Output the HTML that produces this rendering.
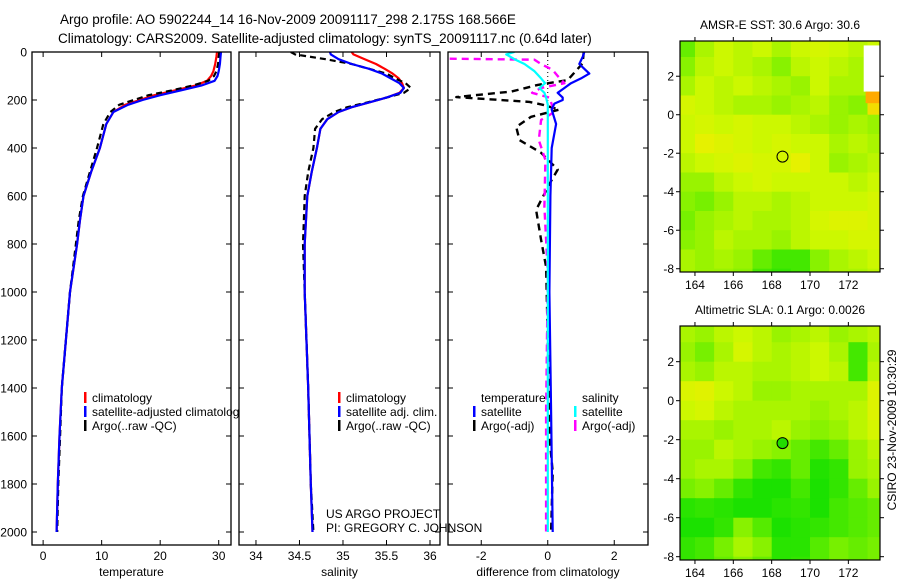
<!DOCTYPE html>
<html><head><meta charset="utf-8"><style>
html,body{margin:0;padding:0;background:#fff;}
svg{display:block;font-family:"Liberation Sans",sans-serif;}
</style></head><body>
<svg id="fig" width="900" height="580" viewBox="0 0 900 580">
<g font-size="13.5">
<text x="60" y="24">Argo profile: AO 5902244_14 16-Nov-2009 20091117_298 2.175S 168.566E</text>
<text x="58" y="43">Climatology: CARS2009. Satellite-adjusted climatology: synTS_20091117.nc (0.64d later)</text>
</g>
<g id="plots"></g>
</svg>
<script>
// ---------- DATA ----------
const tDepth = [0,20,50,80,100,120,140,160,180,200,220,250,300,400,500,600,700,800,1000,1200,1400,1600,1800,2000];
const tClim  = [29.7,29.6,29.4,29.1,28.7,28.0,26,22.5,19,16.5,14,12,10.8,9.7,8.2,6.9,6.3,5.8,4.6,3.9,3.2,2.8,2.5,2.3];
const tSat   = [30.4,30.3,30.2,30.0,29.8,29.3,27,23.5,20,17,14.5,12,10.8,9.7,8.2,6.9,6.3,5.8,4.6,3.9,3.2,2.8,2.5,2.3];
const tArgo  = [30.1,30.0,29.9,29.6,29.2,28.2,25.5,22,18,15.5,13,11.5,10.3,9.2,8.0,6.8,6.1,5.6,4.6,3.9,3.2,2.9,2.6,2.4];

const sDepth = [0,10,30,50,70,90,110,130,150,170,190,210,230,250,280,320,400,500,600,800,1000,1400,1800,2000];
const sClim  = [35.1,35.12,35.25,35.38,35.48,35.57,35.64,35.68,35.7,35.65,35.5,35.3,35.1,34.95,34.82,34.74,34.7,34.64,34.59,34.56,34.56,34.6,34.63,34.65];
const sSat   = [34.85,34.86,34.95,35.1,35.3,35.45,35.55,35.65,35.7,35.66,35.5,35.3,35.1,34.95,34.82,34.74,34.7,34.64,34.59,34.56,34.56,34.6,34.63,34.65];
const sArgo  = [34.4,34.45,34.8,35.1,35.3,35.5,35.6,35.72,35.78,35.7,35.5,35.28,35.05,34.9,34.76,34.68,34.66,34.6,34.56,34.54,34.56,34.6,34.63,34.66];

const dTSatDepth = [0,20,50,70,90,110,130,150,170,190,200,215,240,300,400,600,1000,1500,2000];
const dTSat      = [1.1,1.05,0.95,1.1,1.25,1.0,0.7,0.5,0.3,0.45,0.45,0.2,0.12,0.25,0.12,0.08,0.05,0.1,0.15];
const dTArgoDepth = [0,47,117,137,165,188,208,220,240,270,312,367,420,490,545,658,783,896,1200,1600,1750,2000];
const dTArgo      = [1.08,1.05,0.6,-0.3,-1.1,-2.75,-0.55,-0.15,0.35,-0.5,-0.95,-0.85,-0.2,0.3,0.07,-0.35,-0.2,-0.05,0,0.05,0.15,0.1];
const dSSatDepth = [0,10,30,50,80,110,130,150,170,190,220,300,2000];
const dSSat      = [-1.0,-1.25,-1.0,-0.7,-0.4,-0.2,-0.08,-0.25,-0.1,-0.05,0,0,0];
const dSArgoDepth = [28,32,50,75,100,130,150,170,190,250,283,367,450,645,920,1500,2000];
const dSArgo      = [-2.95,-0.4,-0.2,0.15,0.3,0.5,-0.2,-0.47,0.05,0.2,-0.2,-0.27,-0.07,-0.1,0,-0.05,-0.05];

const depthTicks = [0,200,400,600,800,1000,1200,1400,1600,1800,2000];
const tTicks = [0,10,20,30];
const sTicks = [34,34.5,35,35.5,36];
const dTicks = [-2,0,2];
const lonTicks = [164,166,168,170,172];
const latTicks = [2,0,-2,-4,-6,-8];
const floatLon = 168.566, floatLat = -2.175;

// map grids: rows lat 4..-9 (1 deg), cols lon 163..174
const sstGrid = [
[.3,.5,.6,.55,.6,.5,.6,.65,.6,.55,.6],
[.4,.55,.6,.55,.5,.4,.55,.6,.55,.5,.55],
[.5,.6,.55,.6,.55,.5,.45,.6,.5,.5,.6],
[.65,.6,.55,.5,.5,.45,.5,.55,.45,.4,.85],
[.6,.65,.6,.65,.6,.6,.55,.5,.45,.5,.45],
[.6,.75,.7,.65,.6,.65,.6,.6,.5,.55,.5],
[.55,.6,.65,.7,.65,.65,.75,.6,.45,.5,.55],
[.45,.45,.55,.6,.65,.6,.6,.6,.6,.55,.6],
[.4,.35,.45,.55,.55,.5,.55,.6,.6,.6,.65],
[.35,.45,.5,.55,.5,.5,.55,.65,.7,.7,.65],
[.4,.45,.55,.5,.5,.45,.55,.6,.6,.65,.65],
[.5,.45,.5,.45,.3,.2,.2,.4,.5,.55,.6],
[.5,.45,.45,.4,.2,.15,.2,.4,.5,.5,.55]];
const slaGrid = [
[.5,.45,.55,.6,.55,.45,.5,.55,.45,.5,.55],
[.45,.35,.5,.65,.55,.5,.55,.6,.5,.2,.5],
[.5,.45,.55,.55,.5,.5,.55,.6,.55,.2,.55],
[.68,.72,.6,.55,.45,.45,.5,.5,.5,.5,.7],
[.6,.65,.55,.5,.5,.5,.5,.45,.5,.55,.7],
[.5,.5,.45,.5,.5,.55,.45,.4,.45,.55,.65],
[.45,.45,.55,.5,.45,.4,.3,.2,.3,.45,.55],
[.45,.5,.5,.4,.2,.15,.3,.1,.15,.45,.5],
[.35,.4,.3,.15,.08,.08,.2,.08,.15,.3,.45],
[.12,.15,.12,.08,.08,.12,.15,.08,.2,.25,.3],
[.08,.08,.15,.4,.25,.08,.12,.15,.2,.25,.3],
[.15,.2,.35,.5,.4,.12,.12,.25,.35,.3,.35],
[.15,.2,.3,.4,.3,.12,.15,.25,.35,.3,.35]];

// ---------- DRAW ----------
const NS='http://www.w3.org/2000/svg';
const root=document.getElementById('plots');
function mk(tag,attrs,parent){const e=document.createElementNS(NS,tag);for(const k in attrs)e.setAttribute(k,attrs[k]);(parent||root).appendChild(e);return e;}
const Y0=52, Y1=545;
const yD=d=>52+d*0.24;

const panels=[
 {name:'temperature-panel',x0:32,x1:231,v0:-1.9,v1:32.1,ticks:tTicks,label:'temperature',ylabels:true},
 {name:'salinity-panel',x0:239,x1:440,v0:33.805,v1:36.115,ticks:sTicks,label:'salinity',ylabels:false},
 {name:'difference-panel',x0:448,x1:648,v0:-3.0,v1:3.015,ticks:dTicks,label:'difference from climatology',ylabels:false}
];
panels.forEach(p=>{p.sx=v=>p.x0+(v-p.v0)/(p.v1-p.v0)*(p.x1-p.x0);});

function line(p,depths,vals,color,dash,name,width){
  const pts=depths.map((d,i)=>p.sx(vals[i]).toFixed(1)+','+yD(d).toFixed(1)).join(' ');
  const e=mk('polyline',{points:pts,fill:'none',stroke:color,'stroke-width':width||2.2,'stroke-linejoin':'round'},p.g);
  if(dash)e.setAttribute('stroke-dasharray',dash);
  
  
}

panels.forEach((p,pi)=>{
  const g=mk('g',{});
  
  
  p.g=g;
  const cp=mk('clipPath',{id:'clip'+pi},g);
  mk('rect',{x:p.x0,y:Y0,width:p.x1-p.x0,height:Y1-Y0},cp);
  mk('rect',{x:p.x0,y:Y0,width:p.x1-p.x0,height:Y1-Y0,fill:'#fff',stroke:'none'},g);
  p.inner=mk('g',{'clip-path':'url(#clip'+pi+')'},g);
});
const P1=panels[0],P2=panels[1],P3=panels[2];
function L(p,d,v,c,dash,n,w){const old=p.g;p.g=p.inner;line(p,d,v,c,dash,n,w);p.g=old;}
L(P1,tDepth,tClim,'#f00',null,'temp-climatology-line');
L(P1,tDepth,tArgo,'#000','6,4','temp-argo-line');
L(P1,tDepth,tSat,'#00f',null,'temp-satellite-line');
L(P2,sDepth,sClim,'#f00',null,'sal-climatology-line');
L(P2,sDepth,sArgo,'#000','6,4','sal-argo-line');
L(P2,sDepth,sSat,'#00f',null,'sal-satellite-line');
(function(){const e=mk('line',{x1:P3.sx(0),x2:P3.sx(0),y1:Y0,y2:yD(220),stroke:'#000','stroke-width':1,'stroke-dasharray':'1,3'},P3.inner);
})();
L(P3,dTArgoDepth,dTArgo,'#000','7,5','temp-argo-diff-line',2.4);
L(P3,dSArgoDepth,dSArgo,'#f0f','7,5','sal-argo-diff-line',2.4);
L(P3,dTSatDepth,dTSat,'#00f',null,'temp-satellite-diff-line');
L(P3,dSSatDepth,dSSat,'#0ff',null,'sal-satellite-diff-line');

panels.forEach(p=>{
  const g=p.g;
  const fr=mk('rect',{x:p.x0,y:Y0,width:p.x1-p.x0,height:Y1-Y0,fill:'none',stroke:'#000','stroke-width':1.3},g);
  
  depthTicks.forEach(d=>{
    const y=yD(d);
    mk('line',{x1:p.x0,x2:p.x0+5,y1:y,y2:y,stroke:'#000'},g);
    mk('line',{x1:p.x1-5,x2:p.x1,y1:y,y2:y,stroke:'#000'},g);
    if(p.ylabels){const t=mk('text',{x:p.x0-5,y:y+4.5,'text-anchor':'end','font-size':12},g);t.textContent=d;
      }
  });
  p.ticks.forEach(v=>{
    const x=p.sx(v);
    mk('line',{x1:x,x2:x,y1:Y1,y2:Y1-5,stroke:'#000'},g);
    mk('line',{x1:x,x2:x,y1:Y0,y2:Y0+5,stroke:'#000'},g);
    const t=mk('text',{x:x,y:560,'text-anchor':'middle','font-size':12},g);t.textContent=String(v);
    
  });
  const xl=mk('text',{x:(p.x0+p.x1)/2,y:576,'text-anchor':'middle','font-size':12},g);xl.textContent=p.label;
  
});

function legend(g,x,y,color,text){
  const b=mk('rect',{x:x,y:y-10,width:2.5,height:11,fill:color},g);
  
  const t=mk('text',{x:x+8,y:y,'font-size':12},g);t.textContent=text;
  
}
const lg1=mk('g',{});
const cl=mk('clipPath',{id:'lgclip'},lg1);mk('rect',{x:0,y:0,width:239,height:580},cl);lg1.setAttribute('clip-path','url(#lgclip)');
legend(lg1,84,402,'#f00','climatology');legend(lg1,84,416,'#00f','satellite-adjusted climatology');legend(lg1,84,430,'#000','Argo(..raw -QC)');
const lg2=mk('g',{});
legend(lg2,338,402,'#f00','climatology');legend(lg2,338,416,'#00f','satellite adj. clim.');legend(lg2,338,430,'#000','Argo(..raw -QC)');
const lg3=mk('g',{});
(function(){const t=mk('text',{x:481,y:402,'font-size':12},lg3);t.textContent='temperature';
const t2=mk('text',{x:582,y:402,'font-size':12},lg3);t2.textContent='salinity';})();
legend(lg3,473,416,'#00f','satellite');legend(lg3,473,430,'#000','Argo(-adj)');
legend(lg3,574,416,'#0ff','satellite');legend(lg3,574,430,'#f0f','Argo(-adj)');
(function(){const g=mk('g',{'font-size':12});
const a=mk('text',{x:326,y:518},g);a.textContent='US ARGO PROJECT';
const b=mk('text',{x:326,y:532},g);b.textContent='PI: GREGORY C. JOHNSON';})();

// ---------- MAPS ----------
const stops=[[0,[0x00,0xdd,0x00]],[0.35,[0x77,0xf0,0x00]],[0.6,[0xcc,0xf8,0x00]],[0.8,[0xee,0xee,0x00]],[1,[0xff,0xaa,0x00]]];
function cmap(t){for(let i=1;i<stops.length;i++){if(t<=stops[i][0]){const a=stops[i-1],b=stops[i];const f=(t-a[0])/(b[0]-a[0]);
 return 'rgb('+a[1].map((c,j)=>Math.round(c+(b[1][j]-c)*f)).join(',')+')';}}return 'rgb(255,170,0)';}
function drawMap(name,top,bottom,grid,title,extra){
  const x0=680,x1=880,lon0=163.22,lon1=173.65,lat0=3.83,lat1=-8.17;
  const sx=l=>x0+(l-lon0)/(lon1-lon0)*(x1-x0);
  const sy=l=>top+(lat0-l)/(lat0-lat1)*(bottom-top);
  const g=mk('g',{});
  const cid='c'+name;const cp=mk('clipPath',{id:cid},g);mk('rect',{x:x0,y:top,width:x1-x0,height:bottom-top},cp);
  const inner=mk('g',{'clip-path':'url(#'+cid+')'},g);
  grid.forEach((row,r)=>row.forEach((v,c)=>{
    const lat=4-r,lon=163+c;
    const e=mk('rect',{x:sx(lon).toFixed(1),y:sy(lat).toFixed(1),width:(sx(lon+1)-sx(lon)+0.6).toFixed(1),height:(sy(lat-1)-sy(lat)+0.6).toFixed(1),fill:cmap(v)},inner);
    
  }));
  if(extra)extra(inner,sx,sy);
  const c=mk('circle',{cx:sx(floatLon),cy:sy(floatLat),r:5.5,fill:name==='sla-map'?'#22dd00':'none',stroke:'#000','stroke-width':1},g);
  
  const fr=mk('rect',{x:x0,y:top,width:x1-x0,height:bottom-top,fill:'none',stroke:'#000','stroke-width':1.2},g);
  
  lonTicks.forEach(l=>{const x=sx(l);mk('line',{x1:x,x2:x,y1:bottom,y2:bottom+4,stroke:'#000'},g);mk('line',{x1:x,x2:x,y1:top,y2:top-4,stroke:'#000'},g);
    const t=mk('text',{x:x,y:bottom+17,'text-anchor':'middle','font-size':12},g);t.textContent=l;
    });
  latTicks.forEach(l=>{const y=sy(l);mk('line',{x1:x0-4,x2:x0,y1:y,y2:y,stroke:'#000'},g);mk('line',{x1:x1,x2:x1+4,y1:y,y2:y,stroke:'#000'},g);
    const t=mk('text',{x:x0-6,y:y+4.5,'text-anchor':'end','font-size':12},g);t.textContent=l;
    });
  const tt=mk('text',{x:(x0+x1)/2,y:top-12,'text-anchor':'middle','font-size':12},g);tt.textContent=title;
  
}
drawMap('sst-map',41,272,sstGrid,'AMSR-E SST: 30.6 Argo: 30.6',(g,sx,sy)=>{
  const w=mk('rect',{x:sx(172.8),y:sy(3.6),width:sx(173.7)-sx(172.8),height:sy(1.2)-sy(3.6),fill:'#fff'},g);
  
  mk('rect',{x:sx(172.9),y:sy(1.2),width:sx(173.7)-sx(172.9),height:sy(0.6)-sy(1.2),fill:'#ffaa00'},g);
});
drawMap('sla-map',326,560,slaGrid,'Altimetric SLA: 0.1 Argo: 0.0026');
(function(){const t=mk('text',{x:0,y:0,'font-size':12,'text-anchor':'middle',transform:'translate(896,430) rotate(-90)'});
t.textContent='CSIRO 23-Nov-2009 10:30:29';})();
</script>
</body></html>
